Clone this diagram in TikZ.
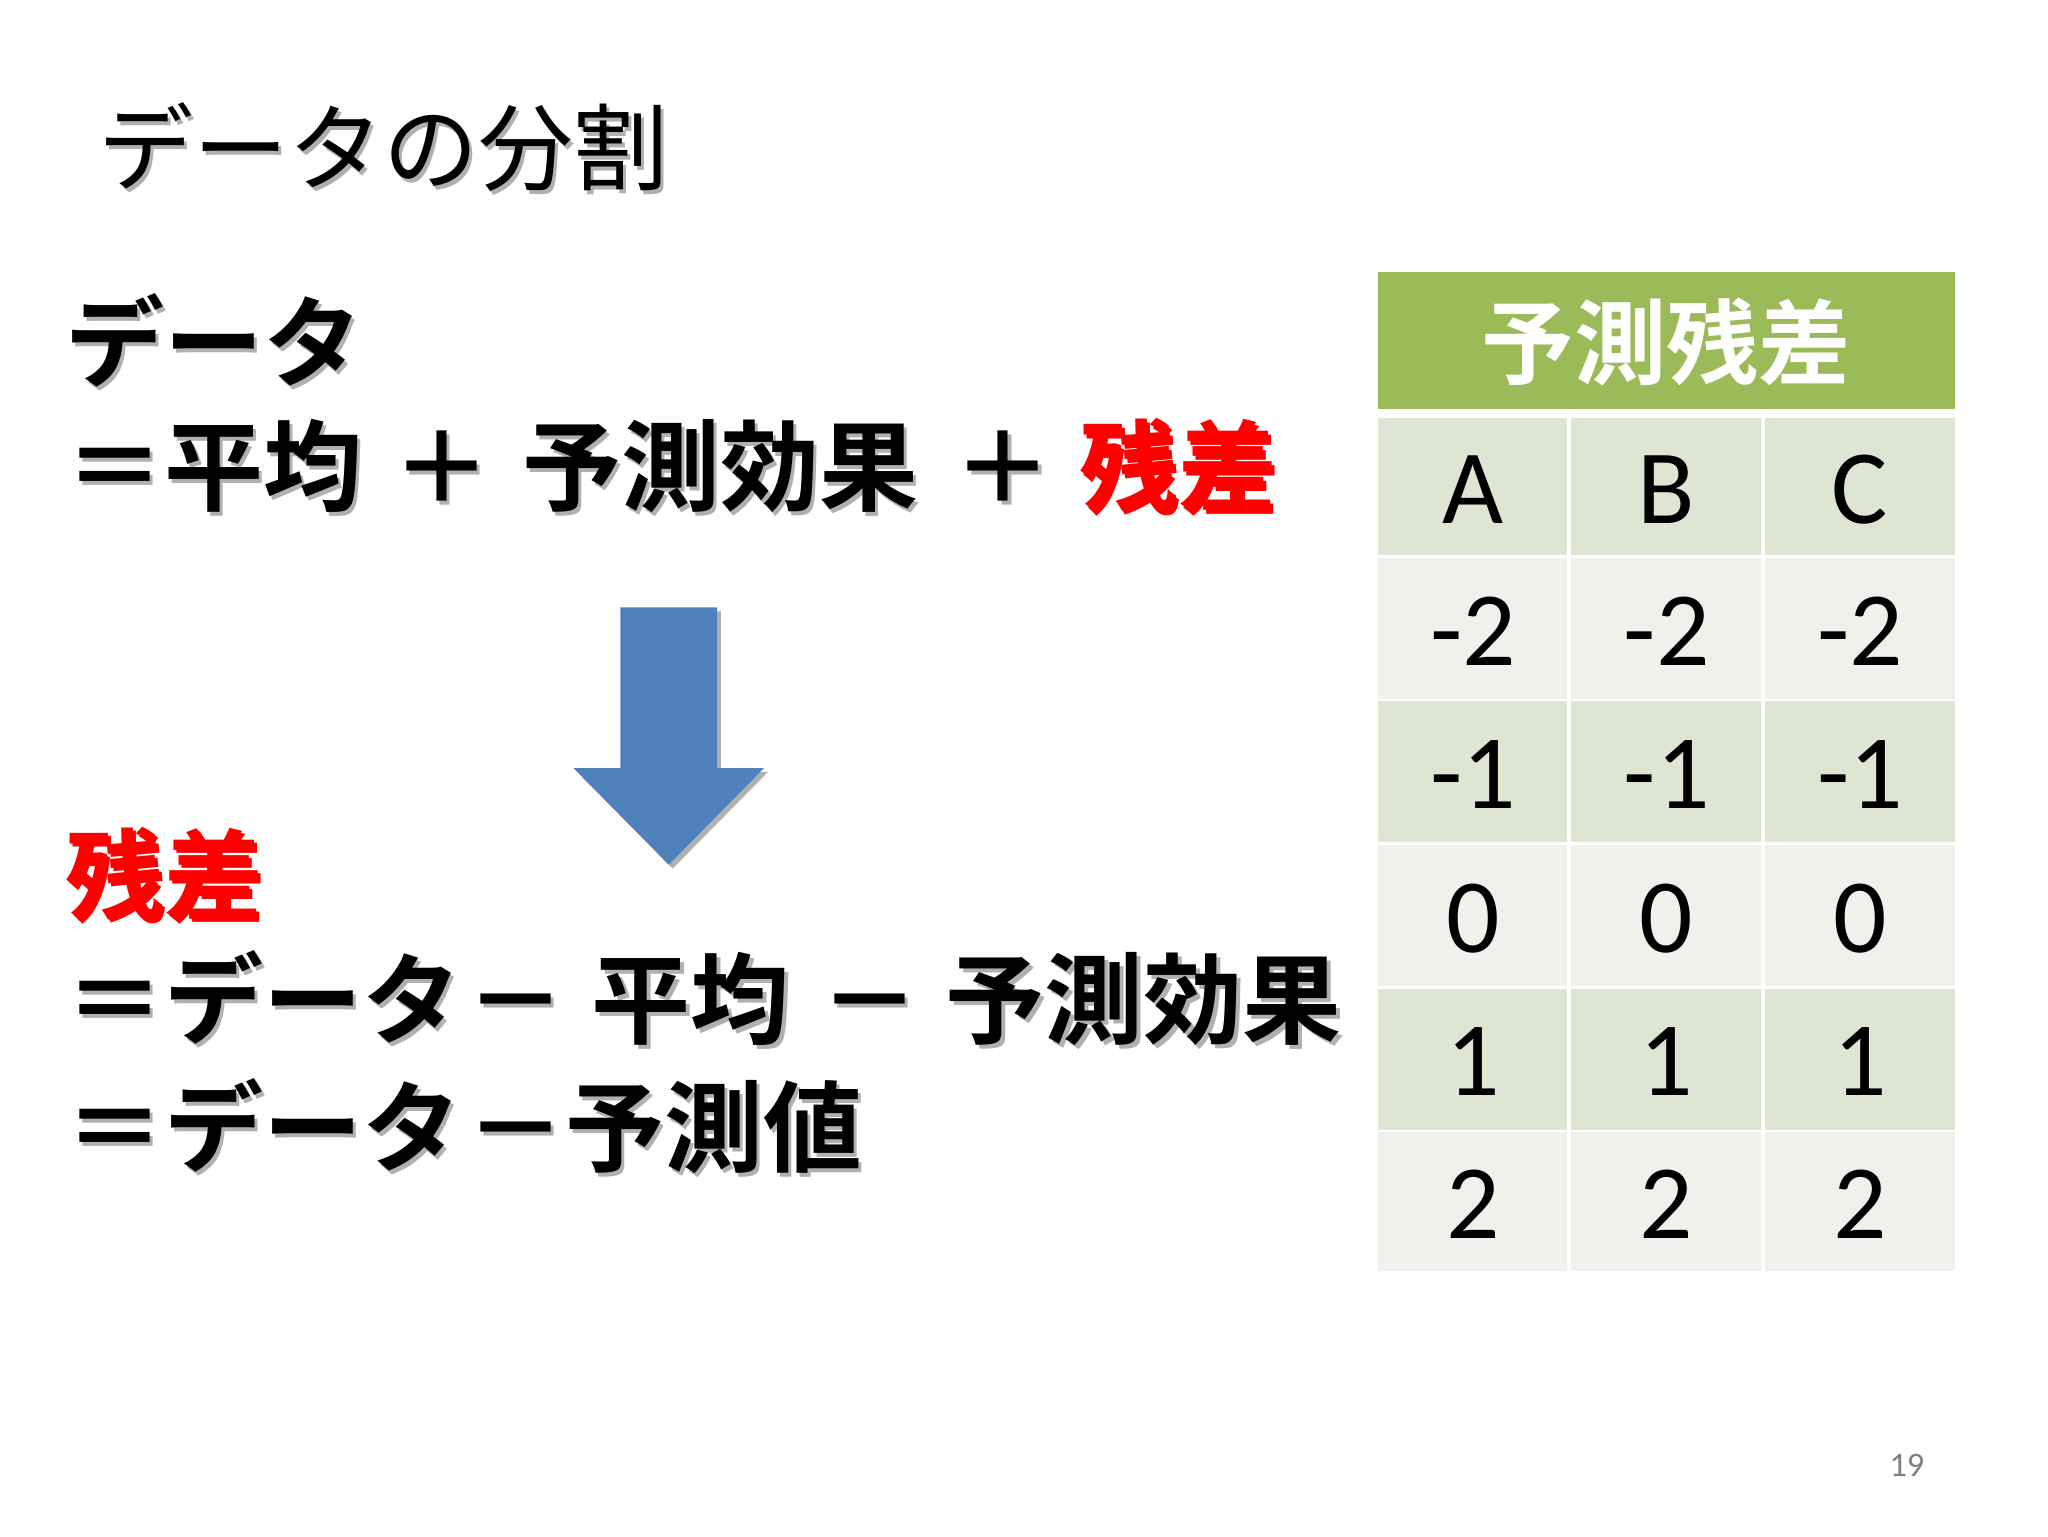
\documentclass[tikz,border=0pt]{standalone}
\usepackage{fontspec}
\newfontfamily\jpb{Noto Sans CJK JP Bold}
\newfontfamily\jpr{Noto Sans CJK JP}
\newfontfamily\carl{Carlito}
\definecolor{hdr}{HTML}{9BBB59}
\definecolor{dk}{HTML}{DEE5D2}
\definecolor{lt}{HTML}{EFF1EC}
\definecolor{arr}{HTML}{4F81BD}
\definecolor{shd}{HTML}{B0B0B0}
\tikzset{
 jt/.style={anchor=west,inner sep=0pt,text height=66pt,text depth=9pt,font=\jpb\fontsize{75}{75}\selectfont},
 cell/.style={anchor=center,inner sep=0pt,font=\carl\fontsize{80}{80}\selectfont},
}
\newcommand{\stx}[4]{%
 \node[jt,text=shd,#3] at (#1+2.5,#2+2.5) {#4};
 \node[jt,#3] (n#1x#2) at (#1,#2) {#4};}
\begin{document}
\begin{tikzpicture}[x=0.99pt,y=-0.99pt]
\useasboundingbox[fill=white] (0,0) rectangle (1568,1176);
% title
\stx{75}{112}{font=\jpr\fontsize{72}{72}\selectfont}{データの分割}
% equation 1
\stx{50}{262}{}{データ}
\stx{50}{357}{}{＝平均}
\stx{300}{357}{}{＋}
\stx{400}{357}{}{予測効果}
\stx{730}{357}{}{＋}
\stx{826}{357}{text=red}{残差}
% arrow
\fill[shd] (478,468) -- (552,468) -- (552,591) -- (588,591) -- (515,665) -- (442,591) -- (478,591) -- cycle;
\fill[arr] (475,465) coordinate (ar) -- (549,465) -- (549,588) -- (585,588) -- (512,662) -- (439,588) -- (475,588) -- cycle;
% residual
\stx{50}{670}{text=red}{残差}
\stx{50}{765}{}{＝データ}
\stx{357}{765}{}{－}
\stx{453}{765}{}{平均}
\stx{628}{765}{}{－}
\stx{724}{765}{}{予測効果}
\stx{50}{863}{}{＝データ}
\stx{357}{863}{}{－予測値}
% table
\fill[hdr] (1055,208) rectangle (1497,313);
\node[font=\jpb\fontsize{70}{70}\selectfont,text=white] (th) at (1276,262) {予測残差};
\foreach \r/\c/\a/\b/\v in {0/dk/320/425/{A,B,C},1/lt/427/535/{-2,-2,-2},2/dk/537/645/{-1,-1,-1},3/lt/647/755/{0,0,0},4/dk/757/865/{1,1,1},5/lt/867/973/{2,2,2}}{
 \foreach \x/\y [count=\i] in {1055/1200,1203/1348,1351/1497}{
  \fill[\c] (\x,\a) rectangle (\y,\b);
 }
 \foreach \t [count=\i] in \v {
  \node[cell] (c\r\i) at ({1128+148*(\i-1)},{(\a+\b)/2+2}) {\t};
 }
}
\node[font=\carl\fontsize{26}{26}\selectfont,text=gray] (pg) at (1460,1122) {19};
\end{tikzpicture}
\end{document}
